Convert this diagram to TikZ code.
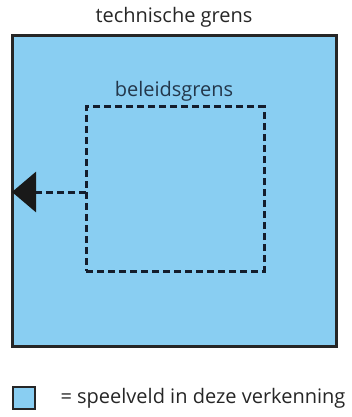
\documentclass[tikz,border=0pt]{standalone}
\usepackage{fontspec}
\setmainfont{Open Sans}
\usetikzlibrary{arrows.meta}
\definecolor{speelblauw}{RGB}{137,206,242}
\definecolor{grensblauw}{RGB}{20,30,45}
\definecolor{tekstblauw}{RGB}{35,55,75}
\begin{document}
\begin{tikzpicture}[x=1pt,y=-1pt,
  vak/.style={draw=black!85,line width=3pt,fill=speelblauw,inner sep=0pt,outer sep=0pt},
  grens/.style={draw=grensblauw,line width=3pt,dash pattern=on 7pt off 4pt,inner sep=0pt,outer sep=0pt}]
\useasboundingbox (0,0) rectangle (352,417);
\node[vak,minimum width=324pt,minimum height=310pt] (speelveld) at (174,191) {};
\node[grens,minimum width=178pt,minimum height=164pt] (beleidsvak) at (175,189) {};
\node[font=\fontsize{20}{23}\selectfont,text=black!85] (tech) at (174,17) {technische grens};
\node[font=\fontsize{20}{23}\selectfont,text=tekstblauw] (beleid) at (174,91) {beleidsgrens};
\draw[grens,-{Triangle[length=24pt,width=40pt,fill=black!90,color=black!90]}] (beleidsvak.west |- 0,192) -- (speelveld.west |- 0,192);
\node[vak,line width=2.4pt,minimum size=22pt] (legvak) at (24,398) {};
\node[font=\fontsize{20}{23}\selectfont,text=black!85,anchor=west] (legenda) at (57,398) {= speelveld in deze verkenning};
\end{tikzpicture}
\end{document}
